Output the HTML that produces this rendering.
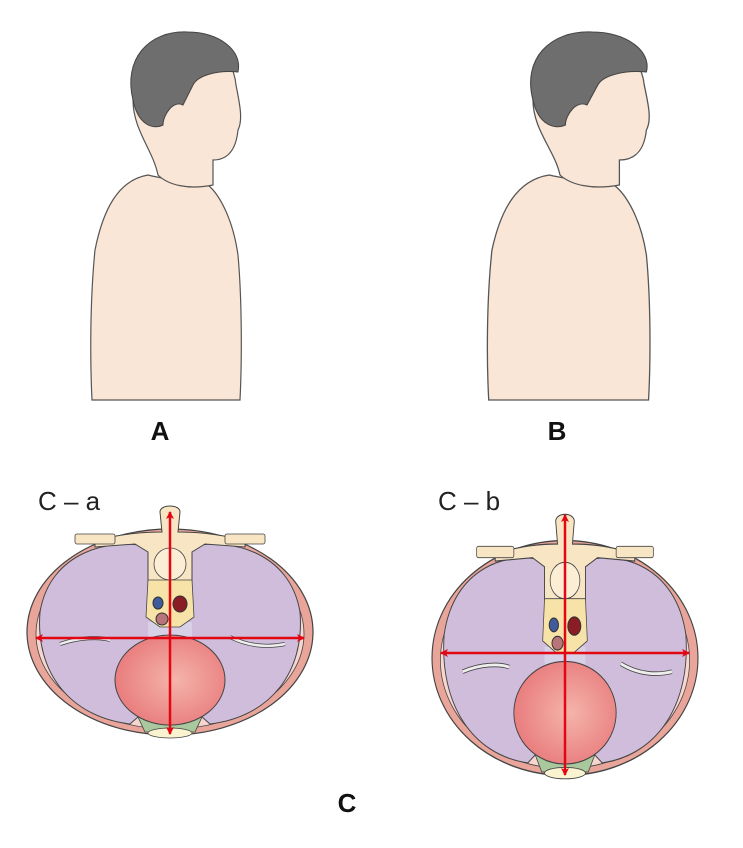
<!DOCTYPE html><html><head><style>body{margin:0;background:#fff}svg{display:block}text{font-family:"Liberation Sans",sans-serif}</style></head><body>
<svg width="743" height="848" viewBox="0 0 743 848" xmlns="http://www.w3.org/2000/svg">
<defs>
<marker id="ar" markerWidth="8" markerHeight="8" refX="7" refY="4" orient="auto" markerUnits="userSpaceOnUse"><path d="M0,0 L8,4 L0,8 L2,4z" fill="#e30613"/></marker>
<radialGradient id="hg" cx="0.55" cy="0.5" r="0.6"><stop offset="0" stop-color="#f4b4aa"/><stop offset="1" stop-color="#e8787a"/></radialGradient>
<g id="sec">
<ellipse cx="0" cy="0" rx="143" ry="103" fill="#e9a59a" stroke="#444" stroke-width="1.2"/>
<ellipse cx="0" cy="2" rx="134" ry="95" fill="#f6d6cf" stroke="#444" stroke-width="0.8"/>
<path d="M-20,-85 C-60,-95 -120,-80 -130,-20 C-135,40 -100,85 -40,92 L-15,70 L-15,-40z" fill="#cfbddb" stroke="#444" stroke-width="1"/>
<path d="M20,-85 C60,-95 120,-80 130,-20 C135,40 100,85 40,92 L15,70 L15,-40z" fill="#cfbddb" stroke="#444" stroke-width="1"/>
<path d="M-32,85 L32,85 L25,100 L-25,100z" fill="#a9c89d" stroke="#444" stroke-width="0.8"/>
<ellipse cx="0" cy="101" rx="22" ry="5" fill="#faf3cf" stroke="#444" stroke-width="0.8"/>
<rect x="-22" y="-10" width="44" height="35" fill="#d8d0e6"/>
<ellipse cx="0" cy="48" rx="55" ry="45" fill="url(#hg)" stroke="#444" stroke-width="1"/>
<path d="M-10,-120 C-10,-128 10,-128 10,-120 L8,-100 C40,-100 55,-95 75,-93 L75,-85 L35,-88 L22,-80 L22,-30 L-22,-30 L-22,-80 L-35,-88 L-75,-85 L-75,-93 C-55,-95 -40,-100 -8,-100z" fill="#f8e5c4" stroke="#444" stroke-width="1"/>
<rect x="-95" y="-98" width="40" height="10" rx="2" fill="#f8e5c4" stroke="#444" stroke-width="0.8"/>
<rect x="55" y="-98" width="40" height="10" rx="2" fill="#f8e5c4" stroke="#444" stroke-width="0.8"/>
<circle cx="0" cy="-68" r="16" fill="#fbeed4" stroke="#444" stroke-width="0.8"/>
<path d="M-22,-52 L22,-52 L24,-15 L10,-5 L-10,-5 L-24,-15z" fill="#f7e3a7" stroke="#444" stroke-width="0.8"/>
<ellipse cx="-12" cy="-29" rx="5" ry="6" fill="#3f5b9c" stroke="#333"/>
<ellipse cx="10" cy="-28" rx="7" ry="8" fill="#8a1c25" stroke="#333"/>
<circle cx="-8" cy="-13" r="6" fill="#b7747a" stroke="#333"/>
<path d="M-110,12 C-90,5 -70,5 -60,8" stroke="#444" stroke-width="4" fill="none"/>
<path d="M-110,12 C-90,5 -70,5 -60,8" stroke="#eee" stroke-width="2.5" fill="none"/>
<path d="M60,5 C80,15 100,15 115,12" stroke="#444" stroke-width="4" fill="none"/>
<path d="M60,5 C80,15 100,15 115,12" stroke="#eee" stroke-width="2.5" fill="none"/>
</g>
<g id="man">
<path d="M-10,-5 C-40,0 -55,30 -63,70 C-68,120 -68,180 -66,220 L82,220 C84,180 84,120 80,75 C75,40 62,15 50,5 C30,2 10,0 -10,-5z" fill="#fae6d6" stroke="#555" stroke-width="1.2"/>
<path d="M0,-140 C40,-150 75,-130 78,-95 C82,-75 85,-60 80,-50 C78,-30 70,-20 55,-20 L55,5 C30,10 10,5 0,-5 C-5,-30 -25,-50 -25,-80 C-25,-110 -20,-130 0,-140z" fill="#fae6d6" stroke="#555" stroke-width="1.2"/>
<path d="M-25,-80 C-35,-120 -10,-150 30,-148 C60,-148 85,-130 80,-108 C60,-110 40,-105 35,-95 L25,-75 C15,-80 5,-65 5,-55 C-5,-50 -20,-55 -25,-80z" fill="#6e6e6e" stroke="#444"/>
</g>
</defs>
<use href="#man" x="158" y="180"/>
<use href="#man" transform="translate(560 180) scale(1.08 1)"/>
<text x="160" y="440" font-size="26" font-weight="bold" text-anchor="middle" fill="#111">A</text>
<text x="557" y="440" font-size="26" font-weight="bold" text-anchor="middle" fill="#111">B</text>
<text x="38" y="510" font-size="26" fill="#222">C – a</text>
<text x="438" y="510" font-size="26" fill="#222">C – b</text>
<text x="347" y="812" font-size="26" font-weight="bold" text-anchor="middle" fill="#111">C</text>
<use href="#sec" transform="translate(170 632)"/>
<use href="#sec" transform="translate(565 658) scale(0.93 1.14)"/>
<g stroke="#e30613" stroke-width="2.5">
<line x1="170" y1="620" x2="170" y2="512" marker-end="url(#ar)"/><line x1="170" y1="620" x2="170" y2="734" marker-end="url(#ar)"/>
<line x1="170" y1="638" x2="36" y2="638" marker-end="url(#ar)"/><line x1="170" y1="638" x2="304" y2="638" marker-end="url(#ar)"/>
<line x1="565" y1="640" x2="565" y2="515" marker-end="url(#ar)"/><line x1="565" y1="640" x2="565" y2="775" marker-end="url(#ar)"/>
<line x1="565" y1="653" x2="441" y2="653" marker-end="url(#ar)"/><line x1="565" y1="653" x2="689" y2="653" marker-end="url(#ar)"/>
</g>
</svg></body></html>
